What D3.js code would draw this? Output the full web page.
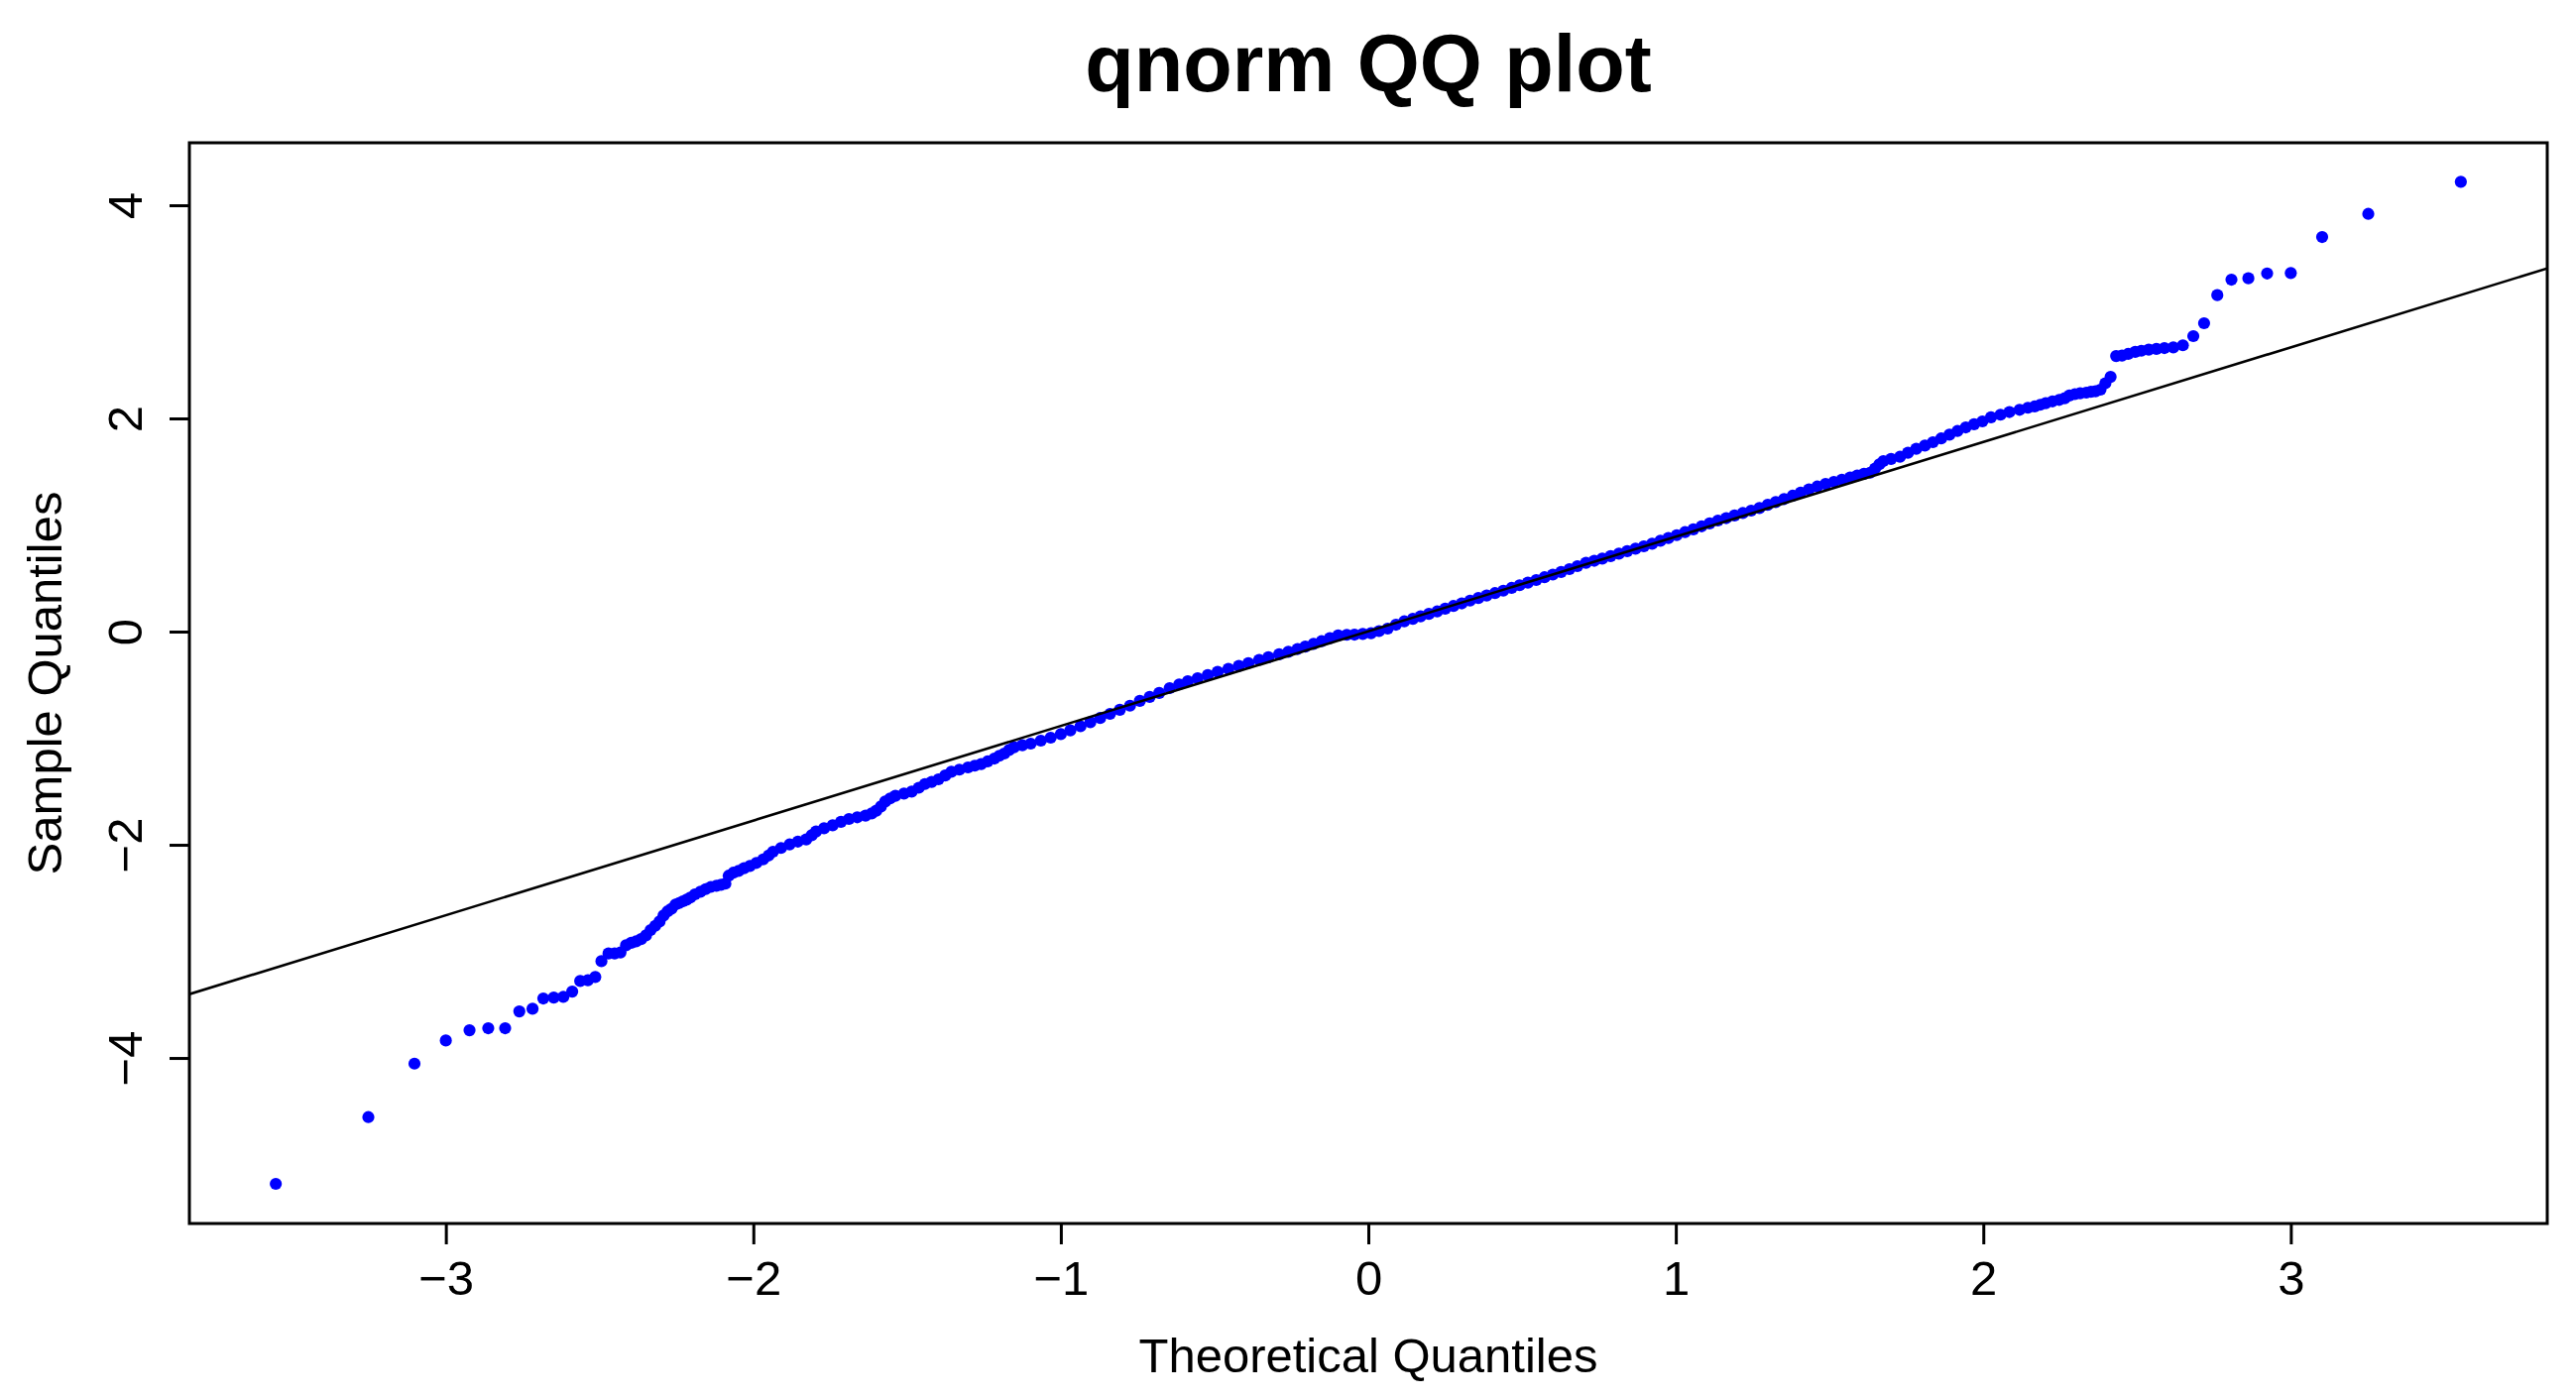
<!DOCTYPE html>
<html>
<head>
<meta charset="utf-8">
<script src="https://cdn.jsdelivr.net/npm/d3@7"></script>
<style>
  html, body { margin: 0; padding: 0; background: #ffffff; }
  svg { display: block; }
</style>
</head>
<body>
<svg id="chart" width="2598" height="1411"></svg>
<script>
// ---- Data: [theoretical quantile, sample quantile] ----
const leftTail = [
  [-3.553,-5.181],[-3.252,-4.555],[-3.102,-4.053],[-3.000,-3.836],[-2.923,-3.740],
  [-2.862,-3.721],[-2.807,-3.721],[-2.761,-3.563],[-2.718,-3.538],[-2.683,-3.442],
  [-2.649,-3.433],[-2.618,-3.427],[-2.589,-3.377],[-2.563,-3.278],[-2.538,-3.271],
  [-2.514,-3.240],[-2.494,-3.092],[-2.471,-3.020],[-2.451,-3.020],[-2.432,-3.010],
  [-2.414,-2.943],[-2.397,-2.920],[-2.381,-2.905],[-2.365,-2.885],[-2.349,-2.850],
  [-2.334,-2.800],[-2.319,-2.760],[-2.305,-2.720],[-2.292,-2.664],[-2.279,-2.625],
  [-2.266,-2.600],[-2.253,-2.560]
];
const body = [
  [-2.241,-2.546],[-2.229,-2.530],[-2.217,-2.515],[-2.205,-2.495],[-2.190,-2.465],
  [-2.172,-2.440],[-2.155,-2.416],[-2.138,-2.395],[-2.120,-2.385],[-2.105,-2.375],
  [-2.091,-2.365],[-2.080,-2.290],[-2.065,-2.262],[-2.048,-2.245],[-2.030,-2.220],
  [-2.011,-2.198],[-1.990,-2.170],[-1.968,-2.137],[-1.950,-2.100],[-1.936,-2.065],
  [-1.910,-2.030],[-1.882,-1.997],[-1.855,-1.970],[-1.828,-1.950],[-1.810,-1.910],
  [-1.796,-1.875],[-1.770,-1.845],[-1.742,-1.817],[-1.715,-1.785],[-1.689,-1.758],
  [-1.662,-1.742],[-1.635,-1.727],[-1.615,-1.705],[-1.600,-1.680],[-1.585,-1.640],
  [-1.571,-1.594],[-1.555,-1.565],[-1.538,-1.541],[-1.510,-1.520],[-1.485,-1.501],
  [-1.462,-1.465],[-1.442,-1.430],[-1.420,-1.410],[-1.398,-1.386],[-1.376,-1.350],
  [-1.356,-1.315],[-1.330,-1.295],[-1.302,-1.274],[-1.280,-1.258],[-1.259,-1.243],
  [-1.238,-1.218],[-1.216,-1.191],[-1.200,-1.165],[-1.184,-1.144],[-1.168,-1.110],
  [-1.152,-1.085],[-1.125,-1.066],[-1.098,-1.051],[-1.065,-1.023],[-1.033,-0.995],
  [-1.000,-0.962],[-0.969,-0.927],[-0.936,-0.888],[-0.904,-0.850],[-0.872,-0.811],
  [-0.840,-0.772],[-0.808,-0.733],[-0.775,-0.695],[-0.743,-0.650],[-0.711,-0.612],
  [-0.680,-0.575],[-0.646,-0.530],[-0.615,-0.495],[-0.587,-0.466],[-0.555,-0.438],
  [-0.522,-0.408],[-0.490,-0.378],[-0.455,-0.350],[-0.421,-0.322],[-0.390,-0.295],
  [-0.355,-0.265],[-0.325,-0.240],[-0.290,-0.213],[-0.260,-0.189],[-0.230,-0.163],
  [-0.205,-0.140],[-0.178,-0.115],[-0.152,-0.090],[-0.125,-0.062],[-0.098,-0.036],
  [-0.070,-0.030],[-0.045,-0.028],[-0.018,-0.022],[0.009,-0.015],[0.035,0.005],
  [0.063,0.028],[0.090,0.065],[0.117,0.096],[0.145,0.120],[0.170,0.143],
  [0.197,0.166],[0.224,0.189],[0.250,0.215],[0.277,0.240],[0.304,0.265],
  [0.331,0.291],[0.358,0.315],[0.385,0.338],[0.412,0.361],[0.439,0.384],
  [0.466,0.410],[0.492,0.435],[0.519,0.460],[0.546,0.484],[0.573,0.510],
  [0.600,0.535],[0.627,0.560],[0.654,0.586],[0.680,0.614],[0.708,0.646],
  [0.735,0.665],[0.761,0.685],[0.788,0.708],[0.815,0.732],[0.842,0.755],
  [0.869,0.778],[0.896,0.800],[0.923,0.825],[0.950,0.852],[0.976,0.878],
  [1.003,0.905],[1.030,0.933],[1.057,0.960],[1.084,0.988],[1.110,1.015],
  [1.137,1.042],[1.164,1.065],[1.191,1.090],[1.218,1.112],[1.245,1.135],
  [1.272,1.160],[1.299,1.190],[1.325,1.215],[1.352,1.244],[1.380,1.275],
  [1.406,1.305],[1.433,1.335],[1.460,1.361],[1.487,1.385],[1.514,1.405],
  [1.540,1.425],[1.567,1.445],[1.590,1.465],[1.612,1.480],[1.632,1.491],
  [1.648,1.530],[1.662,1.570],[1.675,1.600],[1.700,1.620],[1.729,1.640],
  [1.755,1.678],[1.782,1.715],[1.810,1.745],[1.836,1.777],[1.863,1.812],
  [1.890,1.848],[1.916,1.882],[1.943,1.916],[1.970,1.945],[1.997,1.972],
  [2.025,2.010],[2.056,2.035],[2.085,2.060],[2.118,2.081],[2.145,2.100],
  [2.167,2.112],[2.185,2.128],[2.203,2.143],[2.225,2.160],[2.247,2.174],
  [2.265,2.190],[2.280,2.215],[2.298,2.228],[2.315,2.236],[2.335,2.242],
  [2.350,2.250]
];
const rightTail = [
  [2.365,2.255],[2.381,2.270],[2.397,2.330],[2.414,2.390],[2.432,2.585],
  [2.451,2.590],[2.471,2.605],[2.494,2.625],[2.514,2.635],[2.538,2.645],
  [2.563,2.652],[2.589,2.660],[2.618,2.666],[2.649,2.686],[2.683,2.772],
  [2.718,2.893],[2.761,3.157],[2.807,3.302],[2.862,3.315],[2.923,3.360],
  [3.000,3.364],[3.102,3.702],[3.252,3.919],[3.553,4.220]
];
const qqLine = { intercept: 0.003, slope: 0.888 };   // reference line
const xLimits = [-3.834, 3.834];
const yLimits = [-5.553, 4.586];
const xTicks = [-3, -2, -1, 0, 1, 2, 3];
const yTicks = [-4, -2, 0, 2, 4];
const titleText = "qnorm QQ plot";
const xLabel = "Theoretical Quantiles";
const yLabel = "Sample Quantiles";

// ---- Drawing ----
const svg = d3.select("#chart");
const font = '"Liberation Sans", Arial, Helvetica, sans-serif';
const plot = { left: 191, right: 2569, top: 144, bottom: 1234 };

const x = d3.scaleLinear().domain(xLimits).range([plot.left, plot.right]);
const y = d3.scaleLinear().domain(yLimits).range([plot.bottom, plot.top]);

svg.append("rect").attr("width", 2598).attr("height", 1411).attr("fill", "#ffffff");

svg.append("defs").append("clipPath").attr("id", "plotclip")
  .append("rect")
  .attr("x", plot.left).attr("y", plot.top)
  .attr("width", plot.right - plot.left).attr("height", plot.bottom - plot.top);

const points = leftTail.concat(body, rightTail);

svg.append("g").attr("clip-path", "url(#plotclip)")
  .selectAll("circle")
  .data(points)
  .join("circle")
  .attr("cx", d => x(d[0]))
  .attr("cy", d => y(d[1]))
  .attr("r", 6.1)
  .attr("fill", "#0000ff");

svg.append("line")
  .attr("clip-path", "url(#plotclip)")
  .attr("x1", x(xLimits[0])).attr("y1", y(qqLine.intercept + qqLine.slope * xLimits[0]))
  .attr("x2", x(xLimits[1])).attr("y2", y(qqLine.intercept + qqLine.slope * xLimits[1]))
  .attr("stroke", "#000000").attr("stroke-width", 2.6);

svg.append("rect")
  .attr("x", plot.left).attr("y", plot.top)
  .attr("width", plot.right - plot.left).attr("height", plot.bottom - plot.top)
  .attr("fill", "none").attr("stroke", "#000000").attr("stroke-width", 3);

const fmt = d3.format("d");

const gx = svg.append("g")
  .attr("transform", `translate(0,${plot.bottom})`)
  .call(d3.axisBottom(x).tickValues(xTicks).tickSize(21).tickPadding(14).tickFormat(fmt));
gx.select(".domain").remove();
gx.selectAll(".tick line").attr("stroke", "#000").attr("stroke-width", 3);
gx.selectAll(".tick text")
  .attr("y", 72).attr("dy", 0)
  .attr("fill", "#000")
  .style("font-family", font).style("font-size", "49px");

const gy = svg.append("g")
  .attr("transform", `translate(${plot.left},0)`)
  .call(d3.axisLeft(y).tickValues(yTicks).tickSize(20).tickFormat(fmt));
gy.select(".domain").remove();
gy.selectAll(".tick line").attr("stroke", "#000").attr("stroke-width", 3);
gy.selectAll(".tick text")
  .attr("x", 0).attr("dy", 0)
  .attr("transform", "translate(-48,0) rotate(-90)")
  .attr("text-anchor", "middle")
  .attr("fill", "#000")
  .style("font-family", font).style("font-size", "49px");

svg.append("text")
  .attr("x", (plot.left + plot.right) / 2).attr("y", 92)
  .attr("text-anchor", "middle")
  .style("font-family", font).style("font-size", "81px").style("font-weight", "bold")
  .attr("fill", "#000")
  .text(titleText);

svg.append("text")
  .attr("x", (plot.left + plot.right) / 2).attr("y", 1384)
  .attr("text-anchor", "middle")
  .style("font-family", font).style("font-size", "49px")
  .attr("fill", "#000")
  .text(xLabel);

svg.append("text")
  .attr("transform", `translate(62,${(plot.top + plot.bottom) / 2}) rotate(-90)`)
  .attr("text-anchor", "middle")
  .style("font-family", font).style("font-size", "49px")
  .attr("fill", "#000")
  .text(yLabel);
</script>
</body>
</html>
